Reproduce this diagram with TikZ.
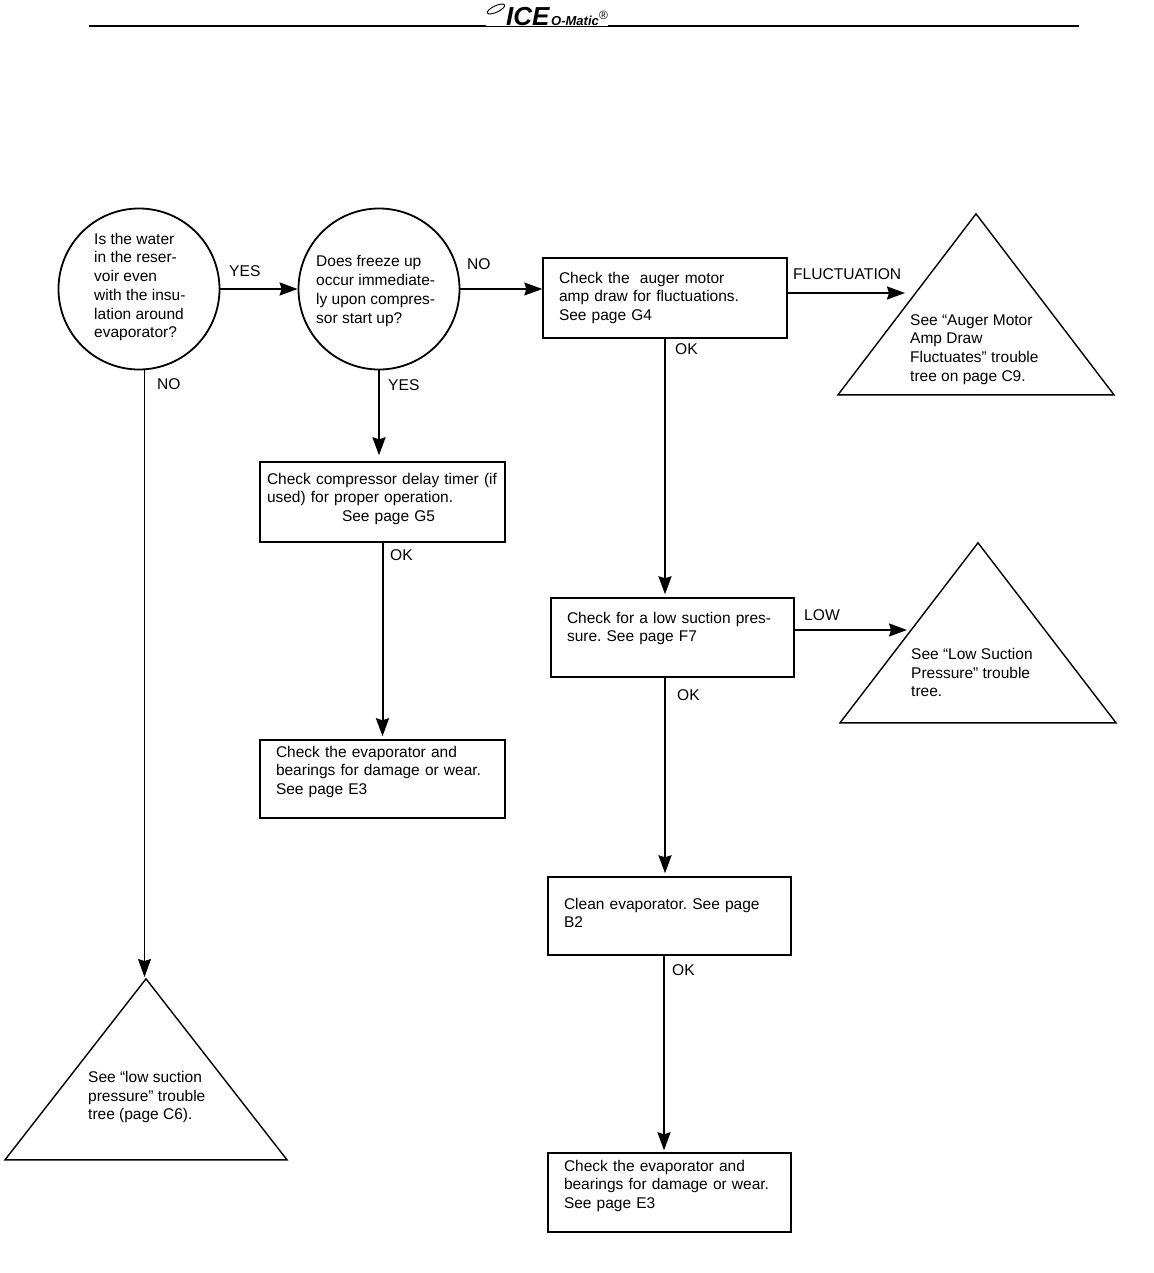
\documentclass[tikz,border=0pt]{standalone}
\usepackage{fontspec}
\setmainfont{Liberation Sans}
\usepackage{tikz}
\usetikzlibrary{arrows.meta,shapes.geometric}

\tikzset{
  txt/.style={inner sep=0pt,align=left,font=\fontsize{15.5}{18.7}\selectfont\frenchspacing},
  lab/.style={inner sep=0pt,anchor=west,font=\fontsize{15.6}{18.7}\selectfont},
  ask/.style={draw,circle,line width=1.8pt,minimum size=#1,inner sep=0pt},
  chk/.style n args={4}{draw,rectangle,line width=1.4pt,inner ysep=0pt,inner xsep=#1,
    text width=#2,text height=#3,text depth=#4,align=left,
    font=\fontsize{15.5}{18.7}\selectfont\frenchspacing},
  tri/.style={draw,isosceles triangle,isosceles triangle stretches,shape border rotate=90,
    anchor=apex,line width=1.4pt,inner sep=0pt},
  thin arrow/.style={-{Stealth[length=18pt,width=13pt,inset=2pt]},line width=1.1pt},
  thick arrow/.style={-{Stealth[length=18pt,width=13pt,inset=2pt]},line width=2pt}
}

\begin{document}
\begin{tikzpicture}[x=1pt,y=-1pt]
  \useasboundingbox (0,0) rectangle (1153,1273);

  \draw[line width=2.4pt] (89,26) -- (486,26);
  \draw[line width=.5pt] (486,26) -- (608,26);
  \draw[line width=2.4pt] (608,26) -- (1079,26);
  \draw[line width=.9pt,rotate around={25:(496,9)}] (496,9) ellipse (9.5 and 3.2);
  \node[inner sep=0pt,anchor=base west,font=\fontsize{26}{26}\bfseries\itshape\selectfont] (logoice) at (506,26) {ICE};
  \node[inner sep=0pt,anchor=base west,font=\fontsize{13}{13}\bfseries\itshape\selectfont] (logoname) at (551,26) {O-Matic};
  \node[inner sep=0pt,anchor=base west,font=\fontsize{12}{12}\selectfont] (logoreg) at (599,20) {®};

  \node[ask=161pt] (water) at (139,289) {};
  \node[txt,anchor=west] (watertxt) at (94,287) {Is the water\\in the reser-\\voir even\\with the insu-\\lation around\\evaporator?};
  \node[ask=161pt] (freeze) at (379,289) {};
  \node[txt,anchor=west] (freezetxt) at (316,291) {Does freeze up\\occur immediate-\\ly upon compres-\\sor start up?};

  \node[chk={16pt}{212pt}{25pt}{55pt}] (amp) at (665,298)
    {Check the\ \ auger motor\\amp draw for fluctuations.\\See page G4};
  \node[chk={7pt}{231pt}{22pt}{58pt}] (timer) at (382.5,502)
    {\mbox{Check compressor delay timer (if}\\used) for proper operation.\\\hspace*{75pt}See page G5};
  \node[chk={16pt}{213pt}{17pt}{61pt}] (bear) at (382.5,779)
    {Check the evaporator and\\bearings for damage or wear.\\See page E3};
  \node[chk={16pt}{211pt}{25pt}{54pt}] (low) at (672.5,637.5)
    {Check for a low suction pres-\\sure. See page F7};
  \node[chk={16pt}{211pt}{32pt}{46pt}] (clean) at (669.5,916)
    {Clean evaporator. See page\\B2};
  \node[chk={16pt}{211pt}{18pt}{61pt}] (bearb) at (669.5,1192.5)
    {Check the evaporator and\\bearings for damage or wear.\\See page E3};

  \node[tri,minimum width=276pt,minimum height=181pt] (seeamp) at (976,212) {};
  \node[txt,anchor=north west] (seeamptxt) at (910,314) {See “Auger Motor\\Amp Draw\\Fluctuates” trouble\\tree on page C9.};
  \node[tri,minimum width=276pt,minimum height=180pt] (seelow) at (978,541) {};
  \node[txt,anchor=north west] (seelowtxt) at (911,648) {See “Low Suction\\Pressure” trouble\\tree.};
  \node[tri,minimum width=282pt,minimum height=181pt] (seesuc) at (146,977) {};
  \node[txt,anchor=north west] (seesuctxt) at (88,1071) {See “low suction\\pressure” trouble\\tree (page C6).};

  \node[lab] (yesa) at (229,271) {YES};
  \node[lab] (noa) at (467,264) {NO};
  \node[lab] (nob) at (157,384) {NO};
  \node[lab] (yesb) at (388,385) {YES};
  \node[lab] (oka) at (675,349) {OK};
  \node[lab] (fluct) at (793,274) {FLUCTUATION};
  \node[lab] (okb) at (390,555) {OK};
  \node[lab] (lowlab) at (804,615) {LOW};
  \node[lab] (okc) at (677,695) {OK};
  \node[lab] (okd) at (672,970) {OK};

  \coordinate (seeampin) at (905,293);
  \coordinate (seelowin) at (907,630);

  \draw[thick arrow] (water) -- (freeze);
  \draw[thin arrow] (freeze.east) -- (amp.west |- freeze.east);
  \draw[thin arrow] ([xshift=-1.5pt]seesuc.apex |- water.south) -- ([xshift=-1.5pt]seesuc.apex);
  \draw[thick arrow,shorten >=6pt] (freeze.south) -- (freeze.south |- timer.north);
  \draw[thick arrow,shorten >=3pt] (timer) -- (bear);
  \draw[thick arrow] (amp.east |- seeampin) -- (seeampin);
  \draw[thick arrow,shorten >=3pt] (amp.south) -- (amp.south |- low.north);
  \draw[thick arrow] (low.east |- seelowin) -- (seelowin);
  \draw[thick arrow,shorten >=3pt] (amp.south |- low.south) -- (amp.south |- clean.north);
  \draw[thick arrow,shorten >=2pt] ([xshift=-5.5pt]clean.south) -- ([xshift=-5.5pt]bearb.north);
\end{tikzpicture}
\end{document}
